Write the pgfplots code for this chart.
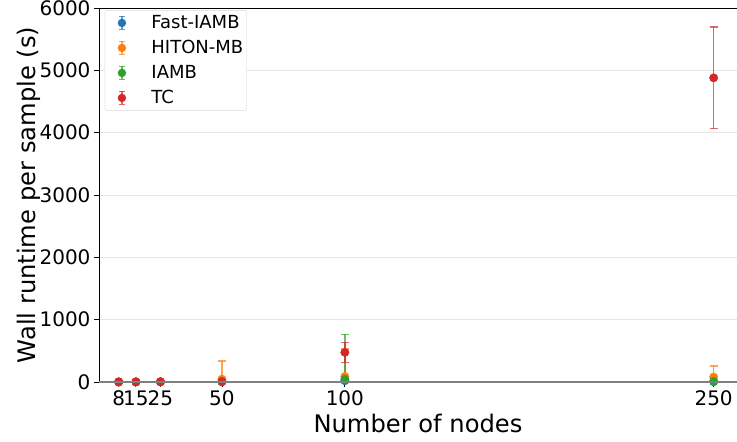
\documentclass[border=0pt]{standalone}
\usepackage{fontspec}
\setmainfont{DejaVu Sans}
\usepackage{pgfplots}
\pgfplotsset{compat=1.18}
\definecolor{tblue}{HTML}{1F77B4}
\definecolor{torange}{HTML}{FF7F0E}
\definecolor{tgreen}{HTML}{2CA02C}
\definecolor{tred}{HTML}{D62728}
\pgfplotsset{
  ebstyle/.style={
    only marks, mark=*, mark size=4.2pt, mark options={draw=#1, fill=#1},
    color=#1,
    error bars/.cd, y dir=both, y explicit,
    error bar style={line width=1.4pt, draw=#1, opacity=0.7},
    error mark options={rotate=90, mark size=4pt, line width=1.3pt, draw=#1, opacity=0.7},
    /pgfplots/.cd,
  },
  ebleg/.style={
    legend image code/.code={
      \path[draw=none, fill=none] (0pt,-9.5pt) rectangle (34pt,9.5pt);
      \draw[#1, opacity=0.7, line width=1.2pt, rounded corners=0pt] (15pt,-6.5pt) -- (15pt,6.5pt);
      \draw[#1, opacity=0.7, line width=1.2pt, rounded corners=0pt] (12pt,-6.5pt) -- (18pt,-6.5pt);
      \draw[#1, opacity=0.7, line width=1.2pt, rounded corners=0pt] (12pt,6.5pt) -- (18pt,6.5pt);
      \fill[#1, draw=none] (15pt,0pt) circle (4.2pt);
    }
  }
}
\begin{document}
\begin{tikzpicture}
\useasboundingbox (-99pt,-60pt) rectangle (638pt,382pt);
\begin{axis}[
  name=ax,
  at={(0pt,0pt)}, anchor=south west,
  scale only axis,
  width=638pt, height=374pt,
  xmin=0, xmax=259.5,
  ymin=0, ymax=6000,
  xtick={8,15,25,50,100,250},
  ytick={0,1000,2000,3000,4000,5000,6000},
  scaled y ticks=false,
  /pgf/number format/assume math mode=true,
  /pgf/number format/set thousands separator={},
  tick label style={font=\fontsize{20}{24}\selectfont},
  label style={font=\fontsize{24.2}{29}\selectfont},
  xlabel={Number of nodes},
  ylabel={Wall runtime per sample (s)},
  xlabel style={yshift=-2pt},
  ylabel style={yshift=-8pt},
  tick align=outside,
  major tick length=5pt,
  tick style={black, line width=0.8pt},
  xtick pos=bottom, ytick pos=left,
  ymajorgrids=true,
  grid style={gray!20, line width=0.8pt},
  axis line style={draw=none},
  legend style={draw=gray!30, rounded corners=2pt,
    at={(0.009,0.994)}, anchor=north west, inner xsep=2pt, inner ysep=3pt, row sep=6pt,
    nodes={font=\fontsize{18}{21}\selectfont, inner sep=1.5pt}},
  legend cell align=left,
]
\addplot+[ebleg=tblue, ebstyle=tblue] table[x=x, y=y, y error=e] {
x y e
8 0.5 1
15 1 2
25 2 3
50 5 10
100 20 30
250 5 10
};
\addlegendentry{\hspace{9pt}Fast-IAMB}
\addplot+[ebleg=torange, ebstyle=torange] table[x=x, y=y, y error=e] {
x y e
8 1 2
15 2 3
25 4 5
50 45 290
100 90 440
250 80 175
};
\addlegendentry{\hspace{9pt}HITON-MB}
\addplot+[ebleg=tgreen, ebstyle=tgreen] table[x=x, y=y, y error=e] {
x y e
8 0.5 1
15 1 2
25 2 3
50 3 5
100 45 720
250 10 15
};
\addlegendentry{\hspace{9pt}IAMB}
\addplot+[ebleg=tred, ebstyle=tred] table[x=x, y=y, y error=e] {
x y e
8 2 1
15 3 1
25 5 2
50 8 3
100 475 160
250 4880 815
};
\addlegendentry{\hspace{9pt}TC}
\end{axis}
\draw[black, line width=0.9pt] (ax.south west) -- (ax.north west) -- (ax.north east);
\draw[gray, line width=1.5pt] (ax.south west) -- (ax.south east);
\end{tikzpicture}
\end{document}
